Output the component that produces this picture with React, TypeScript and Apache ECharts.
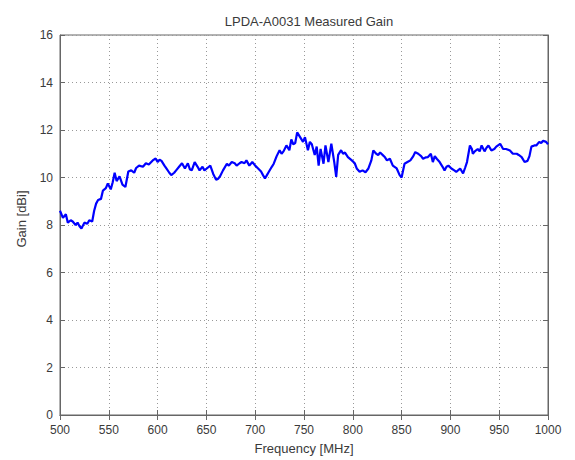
import React, { useEffect, useRef } from "react";
import * as echarts from "echarts";

const freqs: number[] = [
  500, 503, 506, 508, 511, 513, 516, 518, 520, 522, 525, 528, 530, 533, 535, 537, 539, 542, 544, 547,
  549, 552, 554, 556, 558, 561, 564, 567, 570, 573, 576, 578, 581, 585, 588, 591, 595, 598, 600, 602,
  604, 607, 609, 612, 614, 617, 619, 622, 625, 628, 631, 633, 635, 638, 641, 643, 646, 648, 651, 654,
  657, 660, 662, 664, 667, 671, 673, 676, 679, 681, 684, 686, 689, 691, 694, 697, 700, 703, 706, 708,
  710, 712, 714, 717, 719, 722, 725, 727, 729, 732, 735, 737, 739, 741, 743, 746, 749, 751, 754, 756,
  758, 761, 763, 765, 767, 770, 772, 775, 778, 781, 783, 785, 788, 790, 792, 795, 799, 802, 804, 807,
  810, 813, 816, 819, 821, 824, 826, 828, 831, 833, 835, 838, 841, 845, 848, 850, 853, 856, 859, 862,
  864, 867, 870, 872, 875, 877, 880, 882, 884, 886, 889, 892, 894, 896, 898, 901, 904, 906, 910, 913,
  915, 917, 920, 922, 923, 925, 928, 930, 932, 935, 937, 939, 942, 945, 947, 951, 954, 957, 961, 964,
  968, 970, 973, 976, 979, 981, 983, 986, 988, 991, 993, 995, 998, 1000,
];

const gains: number[] = [
  8.6, 8.3, 8.45, 8.1, 8.2, 8.15, 8.0, 8.1, 7.95, 7.85, 8.1, 8.05, 8.2, 8.15, 8.6, 8.9, 9.05, 9.1, 9.45, 9.55,
  9.75, 9.5, 9.8, 10.2, 9.85, 10.05, 9.7, 9.6, 10.25, 10.3, 10.2, 10.4, 10.5, 10.45, 10.6, 10.55, 10.72, 10.8, 10.65, 10.75,
  10.7, 10.5, 10.38, 10.2, 10.1, 10.2, 10.3, 10.45, 10.6, 10.38, 10.6, 10.35, 10.3, 10.65, 10.45, 10.3, 10.45, 10.3, 10.4, 10.5,
  10.15, 9.9, 9.95, 10.05, 10.3, 10.58, 10.5, 10.65, 10.6, 10.5, 10.6, 10.65, 10.6, 10.72, 10.5, 10.65, 10.5, 10.38, 10.25, 10.1,
  9.96, 10.1, 10.24, 10.45, 10.58, 10.9, 11.15, 11.0, 11.1, 11.35, 11.15, 11.6, 11.4, 11.45, 11.9, 11.7, 11.5, 11.7, 11.15, 11.5,
  11.4, 10.95, 11.3, 10.5, 11.2, 10.58, 11.35, 10.65, 11.42, 10.65, 10.03, 10.95, 11.15, 11.0, 11.05, 10.86, 10.72, 10.6, 10.38, 10.24,
  10.3, 10.22, 10.38, 10.72, 11.14, 11.0, 10.95, 11.05, 10.93, 10.85, 10.72, 10.79, 10.5, 10.38, 10.1, 10.0, 10.58, 10.65, 10.72, 10.9,
  11.07, 11.0, 10.9, 10.79, 10.85, 10.86, 11.0, 10.65, 10.9, 10.79, 10.65, 10.45, 10.3, 10.45, 10.5, 10.38, 10.3, 10.24, 10.38, 10.17,
  10.4, 10.65, 11.35, 11.2, 11.0, 11.1, 11.2, 11.1, 11.35, 11.1, 11.25, 11.35, 11.14, 11.2, 11.3, 11.42, 11.2, 11.2, 11.14, 11.0,
  11.0, 10.95, 10.86, 10.65, 10.7, 10.9, 11.3, 11.35, 11.35, 11.5, 11.45, 11.55, 11.5, 11.4,
];

const titleText = "LPDA-A0031 Measured Gain";
const xName = "Frequency [MHz]";
const yName = "Gain [dBi]";

export default function App() {
  const ref = useRef<HTMLDivElement>(null);
  useEffect(() => {
    if (!ref.current) return;
    const chart = echarts.init(ref.current, undefined, { renderer: "svg" });
    const font = "'Liberation Sans', Arial, sans-serif";
    const axisColor = "#666";
    const labelColor = "#3a3a3a";
    const data = freqs.map((f, i) => [f, gains[i]]);
    const plain = (v: number) => String(v);
    chart.setOption({
      animation: false,
      backgroundColor: "#ffffff",
      title: {
        text: titleText,
        left: 304,
        top: 10,
        textAlign: "center",
        textStyle: { fontFamily: font, fontSize: 13, fontWeight: "normal", color: labelColor },
      },
      grid: {
        left: 60,
        right: 27,
        top: 35,
        bottom: 41,
        show: true,
        borderColor: axisColor,
        borderWidth: 1,
        backgroundColor: "#ffffff",
      },
      xAxis: [
        {
          type: "value",
          min: 500,
          max: 1000,
          interval: 50,
          position: "bottom",
          name: xName,
          nameLocation: "middle",
          nameGap: 27,
          nameTextStyle: { fontFamily: font, fontSize: 13, color: labelColor },
          axisLine: { show: true, lineStyle: { color: axisColor, width: 1 } },
          axisTick: { show: true, inside: true, length: 5, lineStyle: { color: axisColor } },
          axisLabel: { fontFamily: font, fontSize: 12, color: labelColor, margin: 9, formatter: plain },
          splitLine: { show: true, lineStyle: { color: "#999", type: [1, 3], width: 1 } },
        },
        {
          type: "value",
          min: 500,
          max: 1000,
          interval: 50,
          position: "top",
          axisLine: { show: true, lineStyle: { color: axisColor, width: 1 } },
          axisTick: { show: true, inside: true, length: 5, lineStyle: { color: axisColor } },
          axisLabel: { show: false },
          splitLine: { show: false },
        },
      ],
      yAxis: [
        {
          type: "value",
          min: 0,
          max: 16,
          interval: 2,
          position: "left",
          name: yName,
          nameLocation: "middle",
          nameGap: 32,
          nameRotate: 90,
          nameTextStyle: { fontFamily: font, fontSize: 13, color: labelColor, padding: [0, 0, 0, 12] },
          axisLine: { show: true, lineStyle: { color: axisColor, width: 1 } },
          axisTick: { show: true, inside: true, length: 5, lineStyle: { color: axisColor } },
          axisLabel: { fontFamily: font, fontSize: 12, color: labelColor, margin: 7, formatter: plain },
          splitLine: { show: true, lineStyle: { color: "#999", type: [1, 3], width: 1 } },
        },
        {
          type: "value",
          min: 0,
          max: 16,
          interval: 2,
          position: "right",
          axisLine: { show: true, lineStyle: { color: axisColor, width: 1 } },
          axisTick: { show: true, inside: true, length: 5, lineStyle: { color: axisColor } },
          axisLabel: { show: false },
          splitLine: { show: false },
        },
      ],
      series: [
        {
          type: "line",
          data,
          xAxisIndex: 0,
          yAxisIndex: 0,
          showSymbol: false,
          symbol: "none",
          lineStyle: { color: "#0000ff", width: 2.2 },
        },
      ],
    });
    return () => chart.dispose();
  }, []);
  return (
    <div
      ref={ref}
      style={{ position: "absolute", left: 0, top: 0, width: 575, height: 460 }}
    />
  );
}
